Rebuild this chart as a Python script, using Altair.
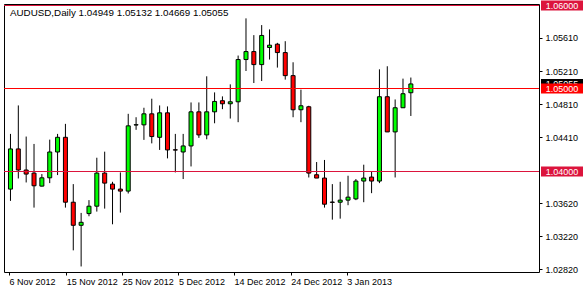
import altair as alt
import pandas as pd

# ---- data (AUDUSD daily candles) ----
opens = [1.03788, 1.04272, 1.04018, 1.03981, 1.03824, 1.03924, 1.04235, 1.04412, 1.03630, 1.03352,
         1.03493, 1.03582, 1.03981, 1.03848, 1.03788, 1.03764, 1.04560, 1.04562, 1.04695, 1.04412,
         1.04707, 1.04262, 1.04235, 1.04308, 1.04719, 1.04441, 1.04719, 1.04853, 1.04816, 1.04840,
         1.05349, 1.05445, 1.05288, 1.05494, 1.05534, 1.05433, 1.05155, 1.04744, 1.04780, 1.03961,
         1.03921, 1.03632, 1.03630, 1.03655, 1.03670, 1.03885, 1.03933, 1.03885, 1.04901, 1.04477,
         1.04768, 1.04949]
highs = [1.04453, 1.04796, 1.04421, 1.04332, 1.03969, 1.04384, 1.04453, 1.04574, 1.03848, 1.03501,
         1.03655, 1.04166, 1.04239, 1.03876, 1.03989, 1.04695, 1.04654, 1.04768, 1.04877, 1.04796,
         1.04784, 1.04453, 1.04453, 1.04832, 1.04832, 1.05147, 1.04953, 1.04905, 1.05050, 1.05397,
         1.05845, 1.05643, 1.05764, 1.05712, 1.05550, 1.05570, 1.05316, 1.04986, 1.04792, 1.04114,
         1.04139, 1.03848, 1.03876, 1.03949, 1.03909, 1.04082, 1.04006, 1.05231, 1.05268, 1.04868,
         1.05119, 1.05132]
lows = [1.03646, 1.03916, 1.03868, 1.03565, 1.03820, 1.03860, 1.03957, 1.03565, 1.03050, 1.02856,
        1.03461, 1.03517, 1.03553, 1.03364, 1.03505, 1.03735, 1.04502, 1.04381, 1.04339, 1.04260,
        1.04158, 1.03989, 1.03909, 1.04061, 1.04405, 1.04388, 1.04581, 1.04751, 1.04638, 1.04594,
        1.05211, 1.05066, 1.05090, 1.05349, 1.05252, 1.05107, 1.04654, 1.04594, 1.03928, 1.03921,
        1.03565, 1.03420, 1.03432, 1.03594, 1.03655, 1.03630, 1.03739, 1.03860, 1.04477, 1.03928,
        1.04768, 1.04669]
closes = [1.04272, 1.04018, 1.03969, 1.03828, 1.03924, 1.04235, 1.04412, 1.03630, 1.03352, 1.03388,
          1.03582, 1.03981, 1.03860, 1.03788, 1.03764, 1.04550, 1.04564, 1.04695, 1.04421, 1.04707,
          1.04260, 1.04258, 1.04308, 1.04719, 1.04441, 1.04719, 1.04844, 1.04816, 1.04840, 1.05349,
          1.05445, 1.05288, 1.05639, 1.05522, 1.05433, 1.05155, 1.04744, 1.04792, 1.03981, 1.03921,
          1.03606, 1.03628, 1.03655, 1.03691, 1.03885, 1.03921, 1.03885, 1.04901, 1.04477, 1.04768,
          1.04937, 1.05055]
bar_index = list(range(len(opens)))

# horizontal levels
level_prices = [1.06000, 1.05000, 1.04000]
level_colors = ["#dc143c", "#ff0000", "#dc143c"]

# axes
y_tick_values = [1.02820, 1.03220, 1.03620, 1.04410, 1.04810, 1.05210, 1.05610]
x_tick_values = [-0.1875, 7.10, 14.225, 21.40, 28.475, 35.69, 42.85]
x_tick_labels = ["6 Nov 2012", "15 Nov 2012", "25 Nov 2012", "5 Dec 2012",
                 "14 Dec 2012", "24 Dec 2012", "3 Jan 2013"]
symbol = "AUDUSD,Daily"

FONT = "Liberation Sans"

df = pd.DataFrame({"i": bar_index, "o": opens, "h": highs, "l": lows, "c": closes})
df["dir"] = ["up" if c >= o else "down" for o, c in zip(opens, closes)]

levels = pd.DataFrame({"p": level_prices, "col": level_colors,
                       "lab": [f"{p:.5f}" for p in level_prices]})
cur = pd.DataFrame({"p": [closes[-1]], "lab": [f"{closes[-1]:.5f}"]})
title_df = pd.DataFrame({"t": [f"{symbol}  {opens[-1]:.5f} {highs[-1]:.5f} {lows[-1]:.5f} {closes[-1]:.5f}"]})

xscale = alt.Scale(domain=[-0.1875, 66.6875], nice=False, zero=False)
yscale = alt.Scale(domain=[1.027892, 1.060181], nice=False, zero=False)

label_expr = f"{x_tick_labels}[indexof({x_tick_values}, datum.value)]"

xenc = alt.X("i:Q", scale=xscale,
             axis=alt.Axis(values=x_tick_values, labelExpr=label_expr, title=None,
                           grid=False, domain=False, tickSize=3, tickColor="black",
                           labelAlign="left", labelPadding=2, labelFont=FONT,
                           labelFontSize=9, labelColor="black", labelBound=False,
                           labelFlush=False, labelOverlap=False))

wicks = alt.Chart(df).mark_rule(color="black", strokeWidth=1).encode(
    x=xenc,
    y=alt.Y("l:Q", scale=yscale,
            axis=alt.Axis(orient="right", values=y_tick_values, format=".5f", title=None,
                          grid=False, domain=False, tickSize=3, tickColor="black",
                          labelPadding=3, labelFont=FONT, labelFontSize=9,
                          labelColor="black", labelOverlap=False, labelBound=False,
                          labelFlush=False)),
    y2="h:Q",
)

bodies = alt.Chart(df).mark_bar(size=4, stroke="black", strokeWidth=1, opacity=1).encode(
    x=alt.X("i:Q", scale=xscale),
    y=alt.Y("o:Q", scale=yscale),
    y2="c:Q",
    color=alt.Color("dir:N", scale=alt.Scale(domain=["up", "down"], range=["#00ff00", "#ff0000"]),
                    legend=None),
)

lines = alt.Chart(levels).mark_rule(strokeWidth=1, opacity=1).encode(
    y=alt.Y("p:Q", scale=yscale),
    color=alt.Color("col:N", scale=None),
)

cur_box = alt.Chart(cur).mark_tick(orient="horizontal", size=42, thickness=10, color="black",
                                   opacity=1).encode(
    x=alt.value(558), y=alt.Y("p:Q", scale=yscale))
cur_text = alt.Chart(cur).mark_text(color="white", font=FONT, fontSize=9, baseline="middle",
                                    align="center").encode(
    x=alt.value(558), y=alt.Y("p:Q", scale=yscale), text="lab:N")

lvl_box = alt.Chart(levels).mark_tick(orient="horizontal", size=42, thickness=10, opacity=1).encode(
    x=alt.value(558), y=alt.Y("p:Q", scale=yscale), color=alt.Color("col:N", scale=None))
lvl_text = alt.Chart(levels).mark_text(color="white", font=FONT, fontSize=9, baseline="middle",
                                       align="center").encode(
    x=alt.value(558), y=alt.Y("p:Q", scale=yscale), text="lab:N")

title = alt.Chart(title_df).mark_text(font=FONT, fontSize=9.8, color="black", align="left",
                                      baseline="alphabetic").encode(
    x=alt.value(6), y=alt.value(12), text="t:N")

chart = alt.layer(wicks, bodies, lines, cur_box, cur_text, lvl_box, lvl_text, title).resolve_scale(
    color="independent"
).properties(
    width=535, height=268,
    autosize=alt.AutoSizeParams(type="none"),
    padding={"left": 4, "top": 4, "right": 45, "bottom": 20},
    background="white",
).configure_view(stroke="black", strokeWidth=1)

chart.save("out.html", embed_options={"renderer": "svg", "actions": False})
